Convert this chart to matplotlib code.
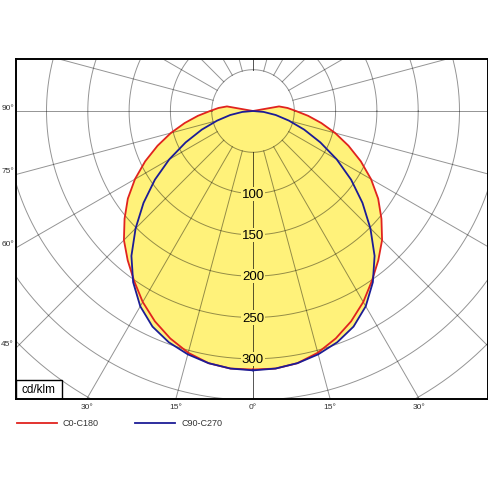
import numpy as np
import matplotlib
matplotlib.use("Agg")
import matplotlib.pyplot as plt
from matplotlib.patches import Rectangle

plt.rcParams['font.family'] = ['Liberation Sans', 'DejaVu Sans']

# ---- data (cd/klm) ----
gamma = [0, 5, 10, 15, 20, 25, 30, 35, 40, 45, 50, 55, 60, 65, 70, 75, 80, 85, 90,
         95, 100, 105, 110, 120, 135, 150, 165, 180]
c0_c180 = [313, 313, 310, 303, 293, 281, 267, 251, 236, 221, 203, 185, 165, 144, 123, 103, 84, 67, 52,
           42, 32, 0, 0, 0, 0, 0, 0, 0]
c90_c270 = [314, 313, 310, 305, 298, 288, 273, 253, 229, 201, 173, 145, 117, 90, 66, 45, 28, 13, 0,
            0, 0, 0, 0, 0, 0, 0, 0, 0]
ring_values = [50, 100, 150, 200, 250, 300, 350, 400, 450]
ring_labels = [100, 150, 200, 250, 300]
left_deg_labels = [90, 75, 60, 45]
bottom_deg_labels = [-30, -15, 0, 15, 30]
series_names = ["C0-C180", "C90-C270"]
series_colors = ["#e0231f", "#1c1c96"]
fill_color = "#fff27a"

W = H = 489
fig = plt.figure(figsize=(W / 100, H / 100), dpi=100)

# axes box in pixels
bx0, bx1, by0, by1 = 16, 488, 60, 400
cx, cy = 253, 112
s = 0.826  # px per cd/klm

ax = fig.add_axes([bx0 / W, 1 - by1 / H, (bx1 - bx0) / W, (by1 - by0) / H])
ax.set_xlim((bx0 - cx) / s, (bx1 - cx) / s)
ax.set_ylim(-(by1 - cy) / s, (cy - by0) / s)
ax.set_aspect('auto')
ax.set_xticks([])
ax.set_yticks([])
for sp in ax.spines.values():
    sp.set_linewidth(1.4)
    sp.set_color('black')
    sp.set_zorder(10)


def curve_xy(vals):
    g = np.radians(np.array(gamma, dtype=float))
    v = np.array(vals, dtype=float)
    # right half (C0 / C90), then left half (C180 / C270) mirrored
    xr = v * np.sin(g)
    yr = -v * np.cos(g)
    xl = -xr[::-1]
    yl = yr[::-1]
    return np.concatenate([xr, xl]), np.concatenate([yr, yl])


xy_curves = [curve_xy(c0_c180), curve_xy(c90_c270)]

# fill (union of both)
for x, y in xy_curves:
    ax.fill(x, y, color=fill_color, lw=0, zorder=1)

# grid
gc = (0, 0, 0, 0.42)
t = np.linspace(0, 2 * np.pi, 721)
for r in ring_values:
    ax.plot(r * np.cos(t), r * np.sin(t), color=gc, lw=0.7, zorder=2)
for a in range(0, 181, 15):
    ar = np.radians(a)
    for sign in (1, -1):
        dx, dy = sign * np.sin(ar), -np.cos(ar)
        ax.plot([50 * dx, 700 * dx], [50 * dy, 700 * dy], color=gc, lw=0.7, zorder=2)

# curves
for (x, y), c in zip(xy_curves, series_colors):
    ax.plot(x, y, color=c, lw=1.3, zorder=4, solid_joinstyle='miter')

# intensity labels
for v in ring_labels:
    ax.text(0, -v, str(v), ha='center', va='center', fontsize=9.5, zorder=6,
            bbox=dict(boxstyle='square,pad=0.08', fc=fill_color, ec='none'))

# cd/klm box
ax.add_patch(Rectangle((0, 0), 46 / (bx1 - bx0), 19 / (by1 - by0), transform=ax.transAxes,
                       fc='white', ec='black', lw=1.0, zorder=8))
ax.text(23 / (bx1 - bx0), 9.5 / (by1 - by0), "cd/klm", transform=ax.transAxes,
        ha='center', va='center', fontsize=8.5, zorder=9)

# degree labels on left edge
for a in left_deg_labels:
    ar = np.radians(a)
    dxp = cx - bx0
    ypx = cy + dxp / np.tan(ar) if a != 90 else cy
    fig.text((bx0 - 2) / W, 1 - (ypx - 4) / H, f"{a}°", ha='right', va='center',
             fontsize=6, color='#333333')

# degree labels at bottom edge
for a in bottom_deg_labels:
    ar = np.radians(a)
    xpx = cx + (by1 - cy) * np.tan(ar)
    fig.text(xpx / W, 1 - 408 / H, f"{abs(a)}°", ha='center', va='center',
             fontsize=6, color='#333333')

# legend
leg = [(17, 57, 63), (135, 175, 182)]
for (x0, x1, xt), name, c in zip(leg, series_names, series_colors):
    fig.add_artist(plt.Line2D([x0 / W, x1 / W], [1 - 424 / H, 1 - 424 / H], color=c, lw=1.3))
    fig.text(xt / W, 1 - 424 / H, name, ha='left', va='center', fontsize=6.5, color='#333333')

fig.savefig("out.png", dpi=100)
